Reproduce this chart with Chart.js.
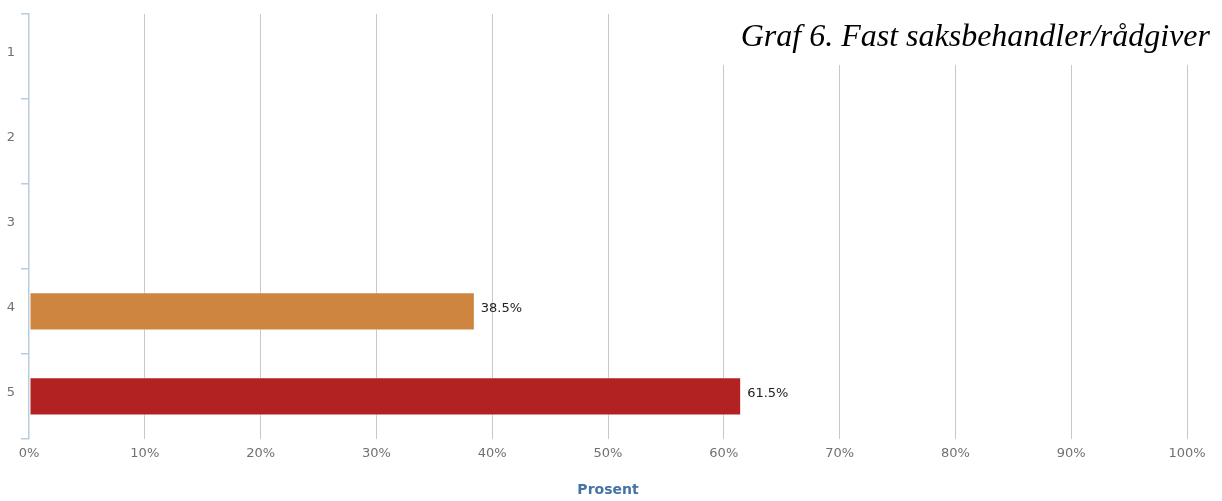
<!DOCTYPE html>
<html>
<head>
<meta charset="utf-8">
<script src="https://cdn.jsdelivr.net/npm/chart.js@4/dist/chart.umd.min.js"></script>
<style>
  body { margin: 0; background: #fff; }
  canvas { display: block; }
</style>
</head>
<body>
<canvas id="graf6" width="1222" height="501"></canvas>
<script>
// svar per kategori (prosent)
const categories = ['1', '2', '3', '4', '5'];
const percentValues = [null, null, null, 38.5, 61.5];
const barColors = ['#4572A7', '#89A54E', '#80699B', '#CD853F', '#B22222'];
const xTicks = [0, 10, 20, 30, 40, 50, 60, 70, 80, 90, 100];
const titleText = 'Graf 6. Fast saksbehandler/rådgiver';
const axisTitle = 'Prosent';

// skriver verdien til høyre for hver stolpe
const barValueLabels = {
    id: 'barValueLabels',
    afterDatasetsDraw(chart) {
        const ctx = chart.ctx;
        const meta = chart.getDatasetMeta(0);
        ctx.save();
        ctx.font = '13px "DejaVu Sans"';
        ctx.fillStyle = '#222';
        ctx.textAlign = 'left';
        ctx.textBaseline = 'middle';
        meta.data.forEach(function (bar, i) {
            const v = percentValues[i];
            if (v === null) return;
            ctx.fillText(v.toFixed(1) + '%', bar.x + 6, bar.y - 3);
        });
        ctx.restore();
    }
};

// overskrift oppe til høyre, med hvit bakgrunn over rutenettet
const grafTitle = {
    id: 'grafTitle',
    afterDraw(chart) {
        const ctx = chart.ctx;
        ctx.save();
        ctx.font = 'italic 32px "Liberation Serif"';
        const w = ctx.measureText(titleText).width;
        const right = chart.width - 12;
        const boxLeft = right - w - 22;
        ctx.fillStyle = '#fff';
        ctx.fillRect(boxLeft, 0, chart.width - boxLeft, 65);
        ctx.fillStyle = '#000';
        ctx.textAlign = 'right';
        ctx.textBaseline = 'alphabetic';
        ctx.fillText(titleText, right, 46);
        ctx.restore();
    }
};

const ctx = document.getElementById('graf6').getContext('2d');
const chart = new Chart(ctx, {
    type: 'bar',
    data: {
        labels: categories,
        datasets: [{
            data: percentValues,
            backgroundColor: barColors,
            borderColor: 'rgba(255,255,255,0.6)',
            borderWidth: 1,
            borderSkipped: false,
            barPercentage: 0.45,
            categoryPercentage: 1
        }]
    },
    options: {
        indexAxis: 'y',
        responsive: false,
        animation: false,
        layout: { padding: { top: 13, right: 35, left: 0, bottom: 0 } },
        plugins: {
            legend: { display: false },
            tooltip: { enabled: false }
        },
        scales: {
            x: {
                min: 0,
                max: 100,
                afterBuildTicks(scale) {
                    scale.ticks = xTicks.map(v => ({ value: v }));
                },
                afterFit(scale) { scale.height = 62; },
                grid: {
                    color: ctx => ctx.index === 0 ? 'rgba(0,0,0,0)' : '#C8C8C8',
                    lineWidth: 1,
                    drawTicks: false
                },
                border: { display: false },
                ticks: {
                    padding: 7,
                    color: '#707070',
                    font: { family: 'DejaVu Sans', size: 13 },
                    callback: v => v + '%'
                },
                title: {
                    display: true,
                    text: axisTitle,
                    color: '#4572A7',
                    font: { family: 'DejaVu Sans', size: 14, weight: 'bold' },
                    padding: { top: 0, bottom: 2 }
                }
            },
            y: {
                afterFit(scale) { scale.width = 29; },
                grid: {
                    offset: true,
                    drawOnChartArea: false,
                    drawTicks: true,
                    tickLength: 8,
                    lineWidth: 1.5,
                    color: '#B8CCE0'
                },
                border: { display: true, color: '#B8CCE0', width: 1.5 },
                ticks: {
                    padding: 6,
                    labelOffset: -4,
                    color: '#707070',
                    font: { family: 'DejaVu Sans', size: 13 }
                }
            }
        }
    },
    plugins: [barValueLabels, grafTitle]
});
</script>
</body>
</html>
